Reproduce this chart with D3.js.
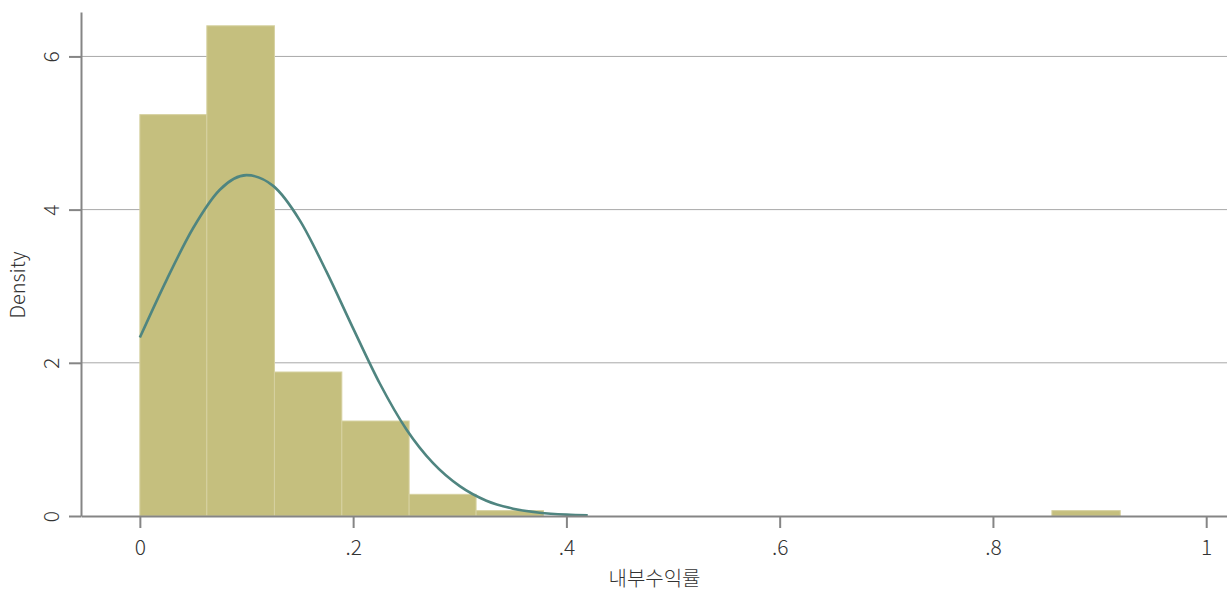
<!DOCTYPE html>
<html>
<head>
<meta charset="utf-8">
<script src="https://cdn.jsdelivr.net/npm/d3@7"></script>
<style>
  body { margin: 0; background: #fff; }
  text { font-family: "Noto Sans CJK KR", "Noto Sans", sans-serif; font-weight: 300; fill: #333; }
</style>
</head>
<body>
<svg id="chart"></svg>
<script>
const width = 1227, height = 592;

// histogram bins (edges) and density heights
const binStarts = [0, 0.0628, 0.1262, 0.1894, 0.2525, 0.3153, 0.8553];
const binEnds   = [0.0628, 0.1262, 0.1894, 0.2525, 0.3153, 0.3785, 0.9194];
const densities = [5.24, 6.40, 1.88, 1.24, 0.283, 0.07, 0.07];

// normal density overlay
const curveX = [0, 0.025, 0.05, 0.075, 0.1, 0.125, 0.15, 0.175, 0.2, 0.225, 0.25, 0.275, 0.3, 0.325, 0.35, 0.375, 0.4, 0.42];
const curveY = [2.33, 3.08, 3.76, 4.26, 4.45, 4.31, 3.86, 3.19, 2.45, 1.73, 1.13, 0.69, 0.39, 0.20, 0.096, 0.043, 0.018, 0.008];

const xTicks = [0, 0.2, 0.4, 0.6, 0.8, 1];
const xTickLabels = ["0", ".2", ".4", ".6", ".8", "1"];
const yTicks = [0, 2, 4, 6];

const xTitle = "내부수익률";
const yTitle = "Density";

const svg = d3.select("#chart")
    .attr("width", width)
    .attr("height", height);

const plotLeft = 81, plotRight = 1227, plotTop = 12, plotBottom = 516;

const x = d3.scaleLinear().domain([-0.0552, 1.0195]).range([plotLeft, plotRight]);
const y = d3.scaleLinear().domain([0, 6.58]).range([plotBottom, plotTop]);

// gridlines
svg.append("g")
    .selectAll("line")
    .data(yTicks.filter(d => d > 0))
    .join("line")
    .attr("x1", plotLeft)
    .attr("x2", plotRight)
    .attr("y1", d => y(d))
    .attr("y2", d => y(d))
    .attr("stroke", "#a8a8a8")
    .attr("stroke-width", 1);

// bars
const bins = densities.map((d, i) => ({x0: binStarts[i], x1: binEnds[i], v: d}));
svg.append("g")
    .selectAll("rect")
    .data(bins)
    .join("rect")
    .attr("x", d => x(d.x0))
    .attr("width", d => x(d.x1) - x(d.x0))
    .attr("y", d => y(d.v))
    .attr("height", d => y(0) - y(d.v))
    .attr("fill", "#c5bf7e")
    .attr("stroke", "#d6d1a0")
    .attr("stroke-width", 1);

// density curve
const line = d3.line()
    .x(d => x(d[0]))
    .y(d => y(d[1]))
    .curve(d3.curveMonotoneX);

svg.append("path")
    .datum(curveX.map((d, i) => [d, curveY[i]]))
    .attr("d", line)
    .attr("fill", "none")
    .attr("stroke", "#4f8580")
    .attr("stroke-width", 2.6);

// axes
const xAxis = svg.append("g")
    .attr("transform", `translate(0,${plotBottom})`)
    .call(d3.axisBottom(x).tickValues(xTicks).tickFormat((d, i) => xTickLabels[i]).tickSize(12).tickSizeOuter(0));

const yAxis = svg.append("g")
    .attr("transform", `translate(${plotLeft},0)`)
    .call(d3.axisLeft(y).tickValues(yTicks).tickFormat(d3.format("d")).tickSize(12).tickSizeOuter(0));

[xAxis, yAxis].forEach(a => {
    a.select(".domain").attr("stroke", "#858585").attr("stroke-width", 2);
    a.selectAll(".tick line").attr("stroke", "#858585").attr("stroke-width", 2);
    a.selectAll(".tick text")
        .style("font-size", "21px")
        .attr("fill", "#333");
});

xAxis.selectAll(".tick text").attr("dy", null).attr("y", 39);

yAxis.selectAll(".tick text")
    .attr("x", null)
    .attr("dy", null)
    .attr("text-anchor", "middle")
    .attr("transform", "translate(-22,0) rotate(-90)");

// axis titles
svg.append("text")
    .attr("x", (plotLeft + plotRight) / 2 + 0.5)
    .attr("y", 586)
    .attr("text-anchor", "middle")
    .style("font-size", "20px")
    .text(xTitle);

svg.append("text")
    .attr("transform", `translate(25,${(plotTop + plotBottom) / 2 + 21}) rotate(-90)`)
    .attr("text-anchor", "middle")
    .style("font-size", "20px")
    .text(yTitle);
</script>
</body>
</html>
